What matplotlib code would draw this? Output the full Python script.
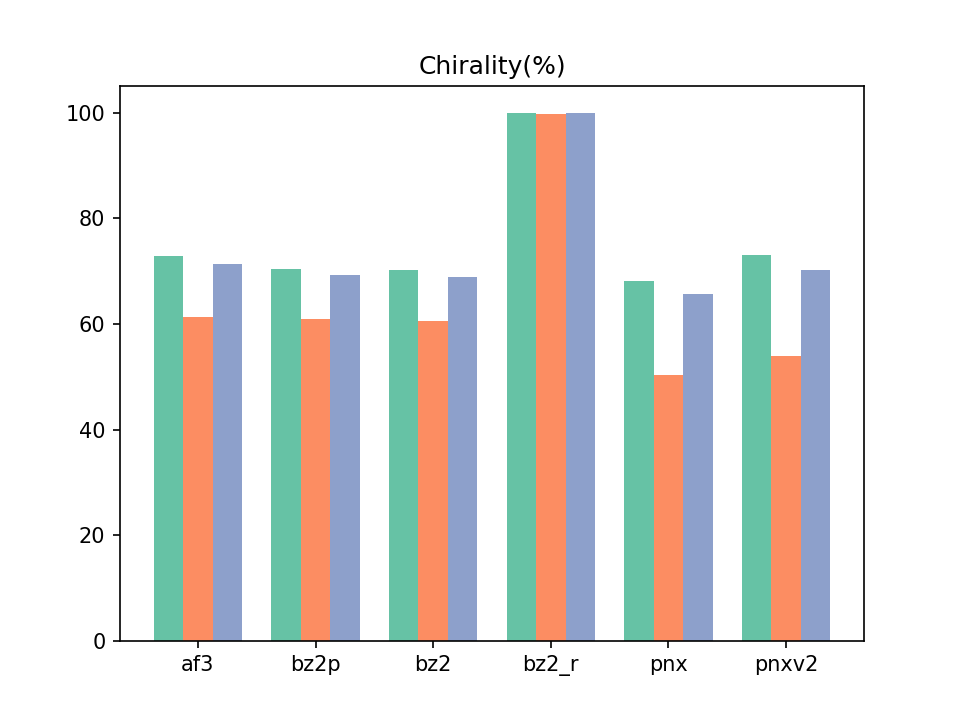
import numpy as np
from matplotlib import pyplot as plt

## data
methods = ["af3", "bz2p", "bz2", "bz2_r", "pnx", "pnxv2"]
series_a = [72.9, 70.5, 70.2, 100.0, 68.1, 73.0]
series_b = [61.3, 61.0, 60.5, 99.8, 50.3, 53.9]
series_c = [71.3, 69.2, 68.9, 100.0, 65.7, 70.3]

colors = ["#66c2a5", "#fc8d62", "#8da0cb"]

# create a figure and axes objects
fig, ax = plt.subplots(figsize=(6.4, 4.8), dpi=150)

x = np.arange(len(methods))
width = 0.25

for i, vals in enumerate([series_a, series_b, series_c]):
    ax.bar(x + (i - 1) * width, vals, width, color=colors[i])

ax.set_xticks(x)
ax.set_xticklabels(methods)
ax.set_title("Chirality(%)")

fig.savefig("out.png", dpi=150)
